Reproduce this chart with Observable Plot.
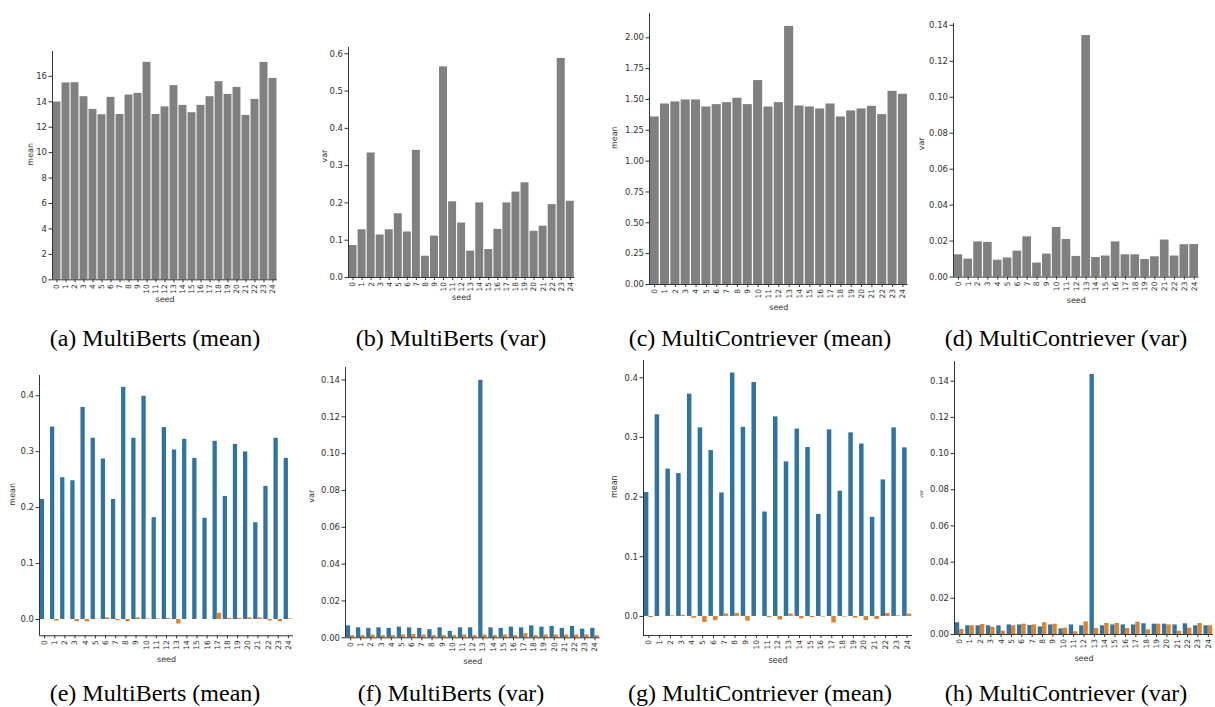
<!DOCTYPE html>
<html>
<head>
<meta charset="utf-8">
<script src="https://cdn.jsdelivr.net/npm/d3@7"></script>
<script src="https://cdn.jsdelivr.net/npm/@observablehq/plot@0.6"></script>
<style>
  html, body { margin: 0; padding: 0; background: #fff; }
  #page { position: relative; width: 1215px; height: 707px; overflow: hidden; background: #fff; }
  .panel { position: absolute; }
  .cap { position: absolute; width: 320px; text-align: center; font-family: "Liberation Serif", "Times New Roman", serif; font-size: 24px; line-height: 28px; color: #000; white-space: nowrap; }
</style>
</head>
<body>
<div id="page"></div>
<script>
// ---------- data ----------
const seeds = [0,1,2,3,4,5,6,7,8,9,10,11,12,13,14,15,16,17,18,19,20,21,22,23,24];

const multiBertsMean = [13.98,15.48,15.5,14.4,13.4,12.98,14.35,13.0,14.53,14.66,17.1,13.0,13.6,15.27,13.72,13.14,13.72,14.4,15.58,14.58,15.13,12.93,14.19,17.1,15.84];
const multiBertsVar = [0.0857,0.128,0.334,0.114,0.128,0.171,0.122,0.341,0.057,0.111,0.565,0.203,0.146,0.0705,0.2,0.075,0.129,0.2,0.229,0.254,0.124,0.1375,0.1955,0.5875,0.2045];
const multiContrieverMean = [1.358,1.463,1.48,1.496,1.496,1.439,1.458,1.474,1.51,1.458,1.653,1.439,1.474,2.092,1.447,1.439,1.423,1.463,1.358,1.407,1.423,1.444,1.377,1.566,1.542];
const multiContrieverVar = [0.0124,0.010,0.0196,0.0193,0.0094,0.0106,0.0144,0.0224,0.0078,0.0128,0.0276,0.0209,0.0115,0.1343,0.0109,0.0117,0.0196,0.0124,0.0124,0.0098,0.0113,0.0206,0.0117,0.018,0.0181];

const bertsMeanBlue = [0.2145,0.344,0.2535,0.248,0.379,0.324,0.287,0.2145,0.415,0.324,0.399,0.182,0.343,0.303,0.322,0.288,0.181,0.3185,0.22,0.313,0.2995,0.173,0.238,0.324,0.288];
const bertsMeanOrange = [0.0,-0.003,0.0,-0.004,-0.004,0.0005,0.003,-0.002,-0.004,0.003,0.001,0.001,0.002,-0.008,0.0,0.0,0.0,0.011,0.002,0.002,0.003,0.003,-0.003,-0.004,0.001];
const bertsVarBlue = [0.0065,0.0054,0.0051,0.0054,0.0051,0.0058,0.0054,0.0051,0.0044,0.0054,0.0035,0.0054,0.0054,0.1398,0.0054,0.0051,0.0058,0.0054,0.0065,0.0058,0.0062,0.0051,0.0062,0.0047,0.0051];
const bertsVarOrange = [0.0012,0.0012,0.0015,0.0012,0.0012,0.0015,0.0018,0.0015,0.0012,0.0012,0.0012,0.0015,0.0012,0.0015,0.0012,0.0015,0.0012,0.0022,0.0012,0.0015,0.0015,0.0015,0.0015,0.0015,0.0012];
const contrMeanBlue = [0.2076,0.338,0.247,0.2395,0.3726,0.316,0.278,0.207,0.408,0.317,0.392,0.175,0.3345,0.259,0.314,0.283,0.171,0.3127,0.2098,0.3077,0.289,0.166,0.2288,0.316,0.2825];
const contrMeanOrange = [-0.002,0.0,0.001,0.002,-0.003,-0.010,-0.007,0.004,0.005,-0.008,0.0,-0.002,-0.006,0.004,-0.004,-0.002,-0.001,-0.011,-0.001,-0.003,-0.007,-0.005,0.005,0.001,0.004];
const contrVarBlue = [0.0065,0.0048,0.0048,0.0048,0.0048,0.0053,0.0053,0.005,0.0042,0.0053,0.0031,0.0053,0.0048,0.1437,0.0048,0.0053,0.0053,0.0053,0.0059,0.0057,0.0057,0.0053,0.0059,0.0048,0.0048];
const contrVarOrange = [0.0028,0.0048,0.0055,0.004,0.0018,0.0048,0.0057,0.0053,0.0065,0.0057,0.0035,0.0015,0.007,0.0033,0.0061,0.0061,0.0033,0.0068,0.0026,0.0057,0.0053,0.0018,0.0035,0.0061,0.0048];

const ticksMeanA = [0,2,4,6,8,10,12,14,16];
const ticksVarB = [0,0.1,0.2,0.3,0.4,0.5,0.6];
const ticksMeanC = [0,0.25,0.5,0.75,1.0,1.25,1.5,1.75,2.0];
const ticksVar014 = [0,0.02,0.04,0.06,0.08,0.10,0.12,0.14];
const ticksMean04 = [0,0.1,0.2,0.3,0.4];

const captions = ["(a) MultiBerts (mean)","(b) MultiBerts (var)","(c) MultiContriever (mean)","(d) MultiContriever (var)",
                  "(e) MultiBerts (mean)","(f) MultiBerts (var)","(g) MultiContriever (mean)","(h) MultiContriever (var)"];

// ---------- styling / layout ----------
const GRAY = "#808080", BLUE = "#3274a1", ORANGE = "#e1812c", INK = "#333";
const layout = [
  {L:52.3, R:277.3, T:50.7, B:279,  labelX:30,    seedY:300,   capX:155,  capY:338},
  {L:347.7,R:574,   T:46.7, B:276.7,labelX:323.3, seedY:298,   capX:451,  capY:338},
  {L:648.7,R:907.3, T:13.3, B:284.3,labelX:614,   seedY:309,   capX:760,  capY:338},
  {L:952.7,R:1198.3,T:22.7, B:276.3,labelX:921,   seedY:301,   capX:1066, capY:338},
  {L:39.3, R:293.3, T:375,  B:635.3,labelX:12.7,  seedY:660.7, capX:155,  capY:693},
  {L:344.7,R:599.3, T:366.7,B:637,  labelX:311,   seedY:662.7, capX:451,  capY:693},
  {L:643.3,R:912.3, T:360.3,B:635.3,labelX:614,   seedY:661.7, capX:760,  capY:693},
  {L:954.3,R:1213.3,T:361,  B:634,  labelX:920.7, seedY:659.3, capX:1066, capY:693, labelSize:5}
];

const fmt = (n) => d3.format(`.${n}f`);
const panels = [
  {series:[multiBertsMean], ticks:ticksMeanA, fmt:d3.format("d"), label:"mean"},
  {series:[multiBertsVar], ticks:ticksVarB, fmt:fmt(1), label:"var"},
  {series:[multiContrieverMean], ticks:ticksMeanC, fmt:fmt(2), label:"mean"},
  {series:[multiContrieverVar], ticks:ticksVar014, fmt:fmt(2), label:"var"},
  {series:[bertsMeanBlue, bertsMeanOrange], ticks:ticksMean04, fmt:fmt(1), label:"mean"},
  {series:[bertsVarBlue, bertsVarOrange], ticks:ticksVar014, fmt:fmt(2), label:"var"},
  {series:[contrMeanBlue, contrMeanOrange], ticks:ticksMean04, fmt:fmt(1), label:"mean"},
  {series:[contrVarBlue, contrVarOrange], ticks:ticksVar014, fmt:fmt(2), label:"var"}
];

// matplotlib-like autoscale: 5% margins, bars stick to zero
function yDomain(series) {
  const all = series.flat();
  const lo = Math.min(0, d3.min(all)), hi = d3.max(all);
  const pad = 0.05 * (hi - lo);
  return [lo < 0 ? lo - pad : 0, hi + pad];
}

const page = document.getElementById("page");

panels.forEach((p, k) => {
  const box = layout[k];
  const ml = 60, mt = 8, mb = 45, mr = Math.max(1, Math.min(8, 1215 - box.R));
  const w = box.R - box.L + ml + mr;
  const h = box.B - box.T + mt + mb;
  const dom = yDomain(p.series);
  const grouped = p.series.length === 2;
  const colors = grouped ? [BLUE, ORANGE] : [GRAY];

  const barMarks = p.series.map((vals, si) => {
    const rows = seeds.map((s, i) => ({seed: s, value: vals[i]}));
    const x1 = grouped ? (si === 0 ? d => d.seed - 0.42 : d => d.seed) : d => d.seed - 0.44;
    const x2 = grouped ? (si === 0 ? d => d.seed : d => d.seed + 0.42) : d => d.seed + 0.44;
    return Plot.rect(rows, {x1, x2, y1: () => 0, y2: "value", fill: colors[si]});
  });

  const chart = Plot.plot({
    width: w, height: h,
    marginLeft: ml, marginRight: mr, marginTop: mt, marginBottom: mb,
    style: {fontFamily: "DejaVu Sans, sans-serif", fontSize: "8px", color: INK, background: "transparent", overflow: "visible"},
    x: {type: "linear", domain: [-0.5, 24.5]},
    y: {type: "linear", domain: dom},
    marks: [
      ...barMarks,
      Plot.ruleX([-0.5], {stroke: INK, strokeWidth: 1}),
      Plot.ruleY([dom[0]], {stroke: INK, strokeWidth: 1}),
      Plot.axisY(p.ticks, {tickFormat: p.fmt, tickSize: 3.5, tickPadding: 2, label: null, fontSize: 8.5}),
      Plot.axisX(seeds, {tickFormat: d3.format("d"), tickRotate: -90, tickSize: 3, tickPadding: 1.5, label: null, fontSize: 7.5}),
      Plot.text([p.label], {frameAnchor: "left", rotate: -90, dx: box.labelX - box.L, fontSize: box.labelSize || 8, fill: INK}),
      Plot.text(["seed"], {frameAnchor: "bottom", dy: box.seedY - box.B + 1, fontSize: 8, fill: INK})
    ]
  });

  const div = document.createElement("div");
  div.className = "panel";
  div.style.left = (box.L - ml) + "px";
  div.style.top = (box.T - mt) + "px";
  div.appendChild(chart);
  page.appendChild(div);

  const cap = document.createElement("div");
  cap.className = "cap";
  cap.textContent = captions[k];
  cap.style.left = (box.capX - 160) + "px";
  cap.style.top = (box.capY - 14) + "px";
  page.appendChild(cap);
});
</script>
</body>
</html>
